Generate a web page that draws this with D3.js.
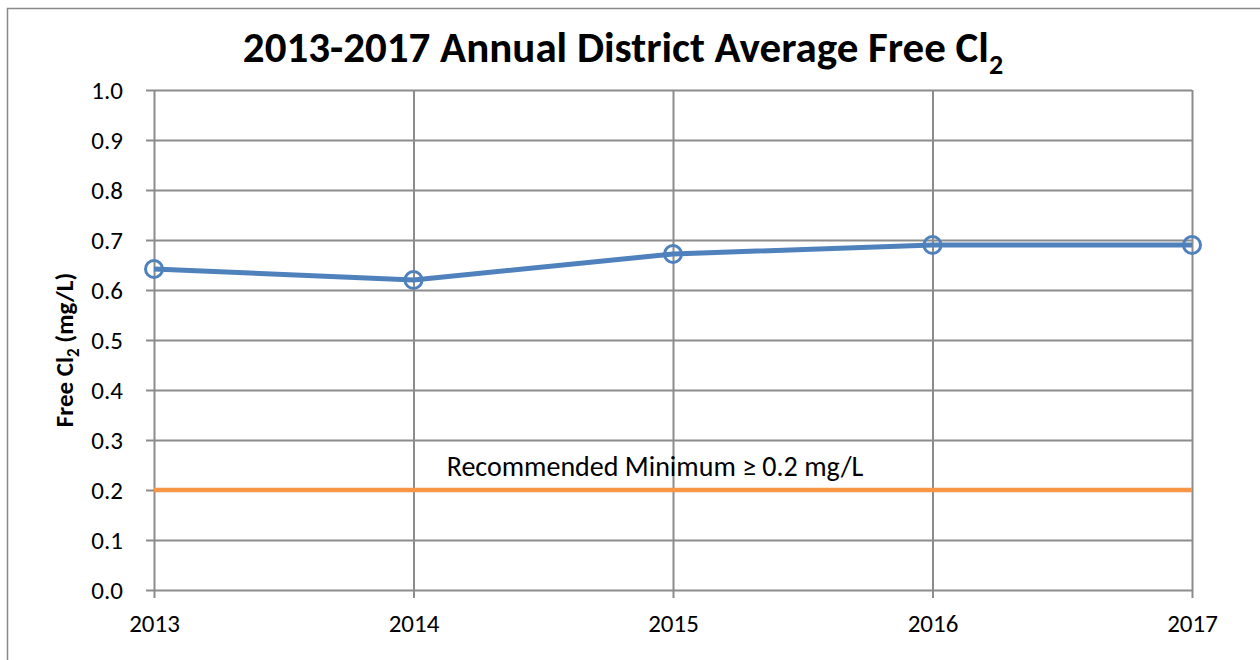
<!DOCTYPE html>
<html>
<head>
<meta charset="utf-8">
<script src="https://cdn.jsdelivr.net/npm/d3@7"></script>
<style>
  body { margin: 0; background: #fff; }
  text { font-family: Carlito, "Liberation Sans", Arial, sans-serif; }
</style>
</head>
<body>
<div id="chart"></div>
<script>
// chart data
const years = [2013, 2014, 2015, 2016, 2017];
const freeCl2 = [0.642, 0.62, 0.672, 0.69, 0.69];
const recommendedMin = 0.2;
const yTicks = [0, 0.1, 0.2, 0.3, 0.4, 0.5, 0.6, 0.7, 0.8, 0.9, 1.0];

const width = 1260, height = 660;
const margin = { top: 90, right: 68, bottom: 70, left: 154 };
const font = "Carlito, 'Liberation Sans', Arial, sans-serif";

const svg = d3.select("#chart").append("svg")
    .attr("width", width)
    .attr("height", height);

// outer chart border
svg.append("rect")
    .attr("x", 7.5).attr("y", 8.5)
    .attr("width", width).attr("height", height)
    .attr("fill", "none")
    .attr("stroke", "#898989")
    .attr("stroke-width", 1.5);

const x = d3.scaleLinear()
    .domain([2013, 2017])
    .range([margin.left, width - margin.right]);

const y = d3.scaleLinear()
    .domain([0, 1])
    .range([height - margin.bottom, margin.top]);

const gridColor = "#8c8c8c";

// horizontal gridlines + y axis
const yAxis = svg.append("g")
    .attr("transform", `translate(${margin.left},0)`)
    .call(d3.axisLeft(y).tickValues(yTicks).tickFormat(d3.format(".1f"))
        .tickSize(-(width - margin.left - margin.right)).tickPadding(31));
yAxis.select(".domain").remove();
yAxis.selectAll(".tick line")
    .attr("stroke", gridColor).attr("stroke-width", 2)
    .attr("x1", -8);
yAxis.selectAll(".tick text")
    .attr("font-size", 25).attr("fill", "#000")
    .style("font-family", font);

// vertical gridlines + x axis
const xAxis = svg.append("g")
    .attr("transform", `translate(0,${height - margin.bottom})`)
    .call(d3.axisBottom(x).tickValues(years).tickFormat(d3.format("d"))
        .tickSize(-(height - margin.top - margin.bottom)).tickPadding(24));
xAxis.select(".domain").remove();
xAxis.selectAll(".tick line")
    .attr("stroke", gridColor).attr("stroke-width", 2)
    .attr("y1", 8);
xAxis.selectAll(".tick text")
    .attr("font-size", 25).attr("fill", "#000")
    .style("font-family", font);

// recommended minimum line
svg.append("line")
    .attr("x1", x(2013)).attr("x2", x(2017))
    .attr("y1", y(recommendedMin)).attr("y2", y(recommendedMin))
    .attr("stroke", "#f79646")
    .attr("stroke-width", 4.5);

svg.append("text")
    .attr("x", 655)
    .attr("y", 476)
    .attr("text-anchor", "middle")
    .attr("font-size", 28)
    .text("Recommended Minimum \u2265 0.2 mg/L");

// data line
const line = d3.line()
    .x((d, i) => x(years[i]))
    .y(d => y(d));

svg.append("path")
    .datum(freeCl2)
    .attr("fill", "none")
    .attr("stroke", "#4f81bd")
    .attr("stroke-width", 5)
    .attr("d", line);

svg.selectAll(".marker")
    .data(freeCl2)
    .enter().append("circle")
    .attr("class", "marker")
    .attr("cx", (d, i) => x(years[i]))
    .attr("cy", d => y(d))
    .attr("r", 8.5)
    .attr("fill", "none")
    .attr("stroke", "#4f81bd")
    .attr("stroke-width", 3);

// title
const title = svg.append("text")
    .attr("x", 623)
    .attr("y", 62)
    .attr("text-anchor", "middle")
    .attr("font-size", 43)
    .attr("font-weight", "bold")
    .text("2013-2017 Annual District Average Free Cl");
title.append("tspan")
    .attr("font-size", 28)
    .attr("dy", 12)
    .text("2");

// y axis label
const yLabel = svg.append("text")
    .attr("transform", "translate(73,350) rotate(-90)")
    .attr("text-anchor", "middle")
    .attr("font-size", 25)
    .attr("font-weight", "bold")
    .text("Free Cl");
yLabel.append("tspan").attr("font-size", 17).attr("dy", 6).text("2");
yLabel.append("tspan").attr("dy", -6).text(" (mg/L)");
</script>
</body>
</html>
